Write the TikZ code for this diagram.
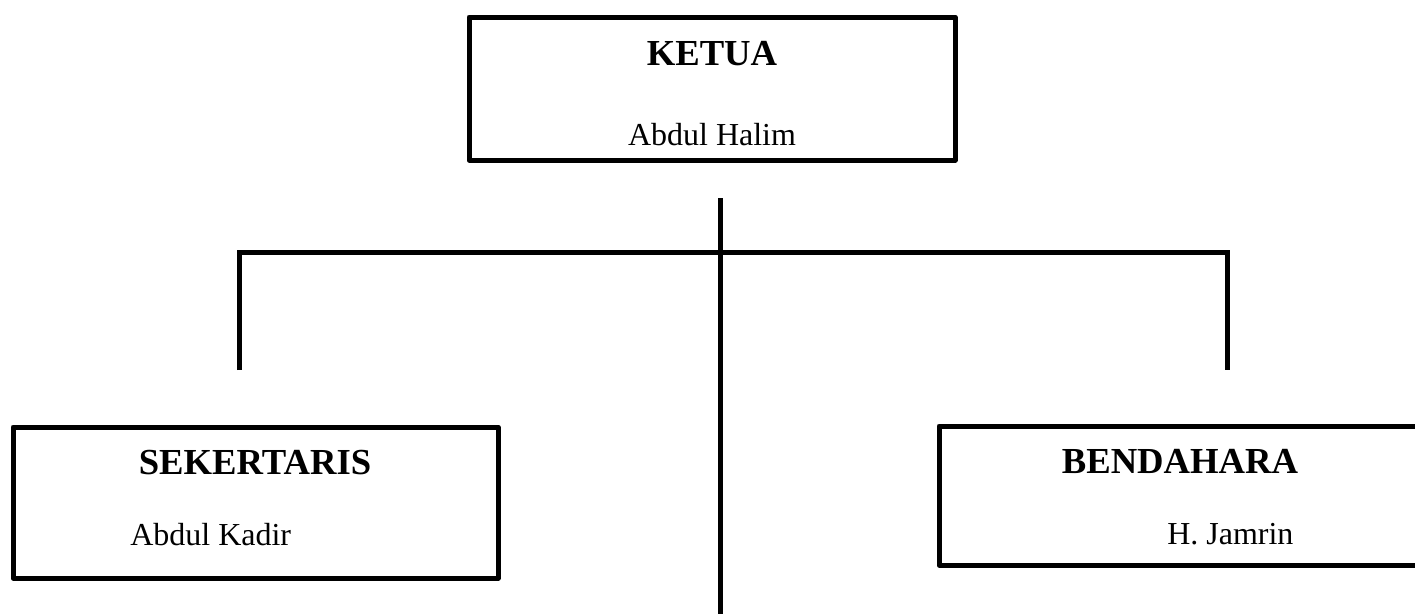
\documentclass[tikz,border=0pt]{standalone}
\usepackage{fontspec}
\setmainfont{Liberation Serif}
\tikzset{
  kotak/.style={draw=black, line width=3.75pt, line join=round, inner sep=0pt},
  judul/.style={inner sep=0pt, anchor=base, font=\fontsize{27.5}{30}\selectfont\bfseries},
  nama/.style={inner sep=0pt, font=\fontsize{24}{28}\selectfont},
  garis/.style={black, line width=3.75pt}
}
\begin{document}
\begin{tikzpicture}[x=0.75pt, y=-0.75pt]
\clip (0,0) rectangle (1415,614) ;
% kotak Ketua
\node[kotak, minimum width=364.5pt, minimum height=107.25pt] (ketua) at (712,88.5) {} ;
\node[judul] (ketua-judul) at (712,65) {KETUA} ;
\node[nama, anchor=base] (ketua-nama) at (712,145) {Abdul Halim} ;
%% kotak Sekertaris
\begin{scope}
\node[kotak, minimum width=363.75pt, minimum height=113.25pt] (sekertaris) at (255.5,502.5) {} ;
\node[judul] (sekertaris-judul) at (255,474) {SEKERTARIS} ;
\node[nama, anchor=base west] (sekertaris-nama) at (130,545) {Abdul Kadir} ;
\end{scope}
%% kotak Bendahara
\begin{scope}
\node[kotak, minimum width=363.75pt, minimum height=104.25pt] (bendahara) at (1181.5,495.5) {} ;
\node[judul] (bendahara-judul) at (1180,473) {BENDAHARA} ;
\node[nama, anchor=base west] (bendahara-nama) at (1167,544) {H. Jamrin} ;
\end{scope}
% garis
\coordinate (atas) at (720,198) ;
\coordinate (bawah) at (720,620) ;
\coordinate (kiri) at (239,252) ;
\coordinate (kanan) at (1227,252) ;
\coordinate (ujung-kiri) at (239,370) ;
\coordinate (ujung-kanan) at (1227,370) ;
\draw[garis] (atas) -- (bawah) ;
\draw[garis] (ujung-kiri) -- (kiri) -- (kanan) -- (ujung-kanan) ;
\end{tikzpicture}
\end{document}
